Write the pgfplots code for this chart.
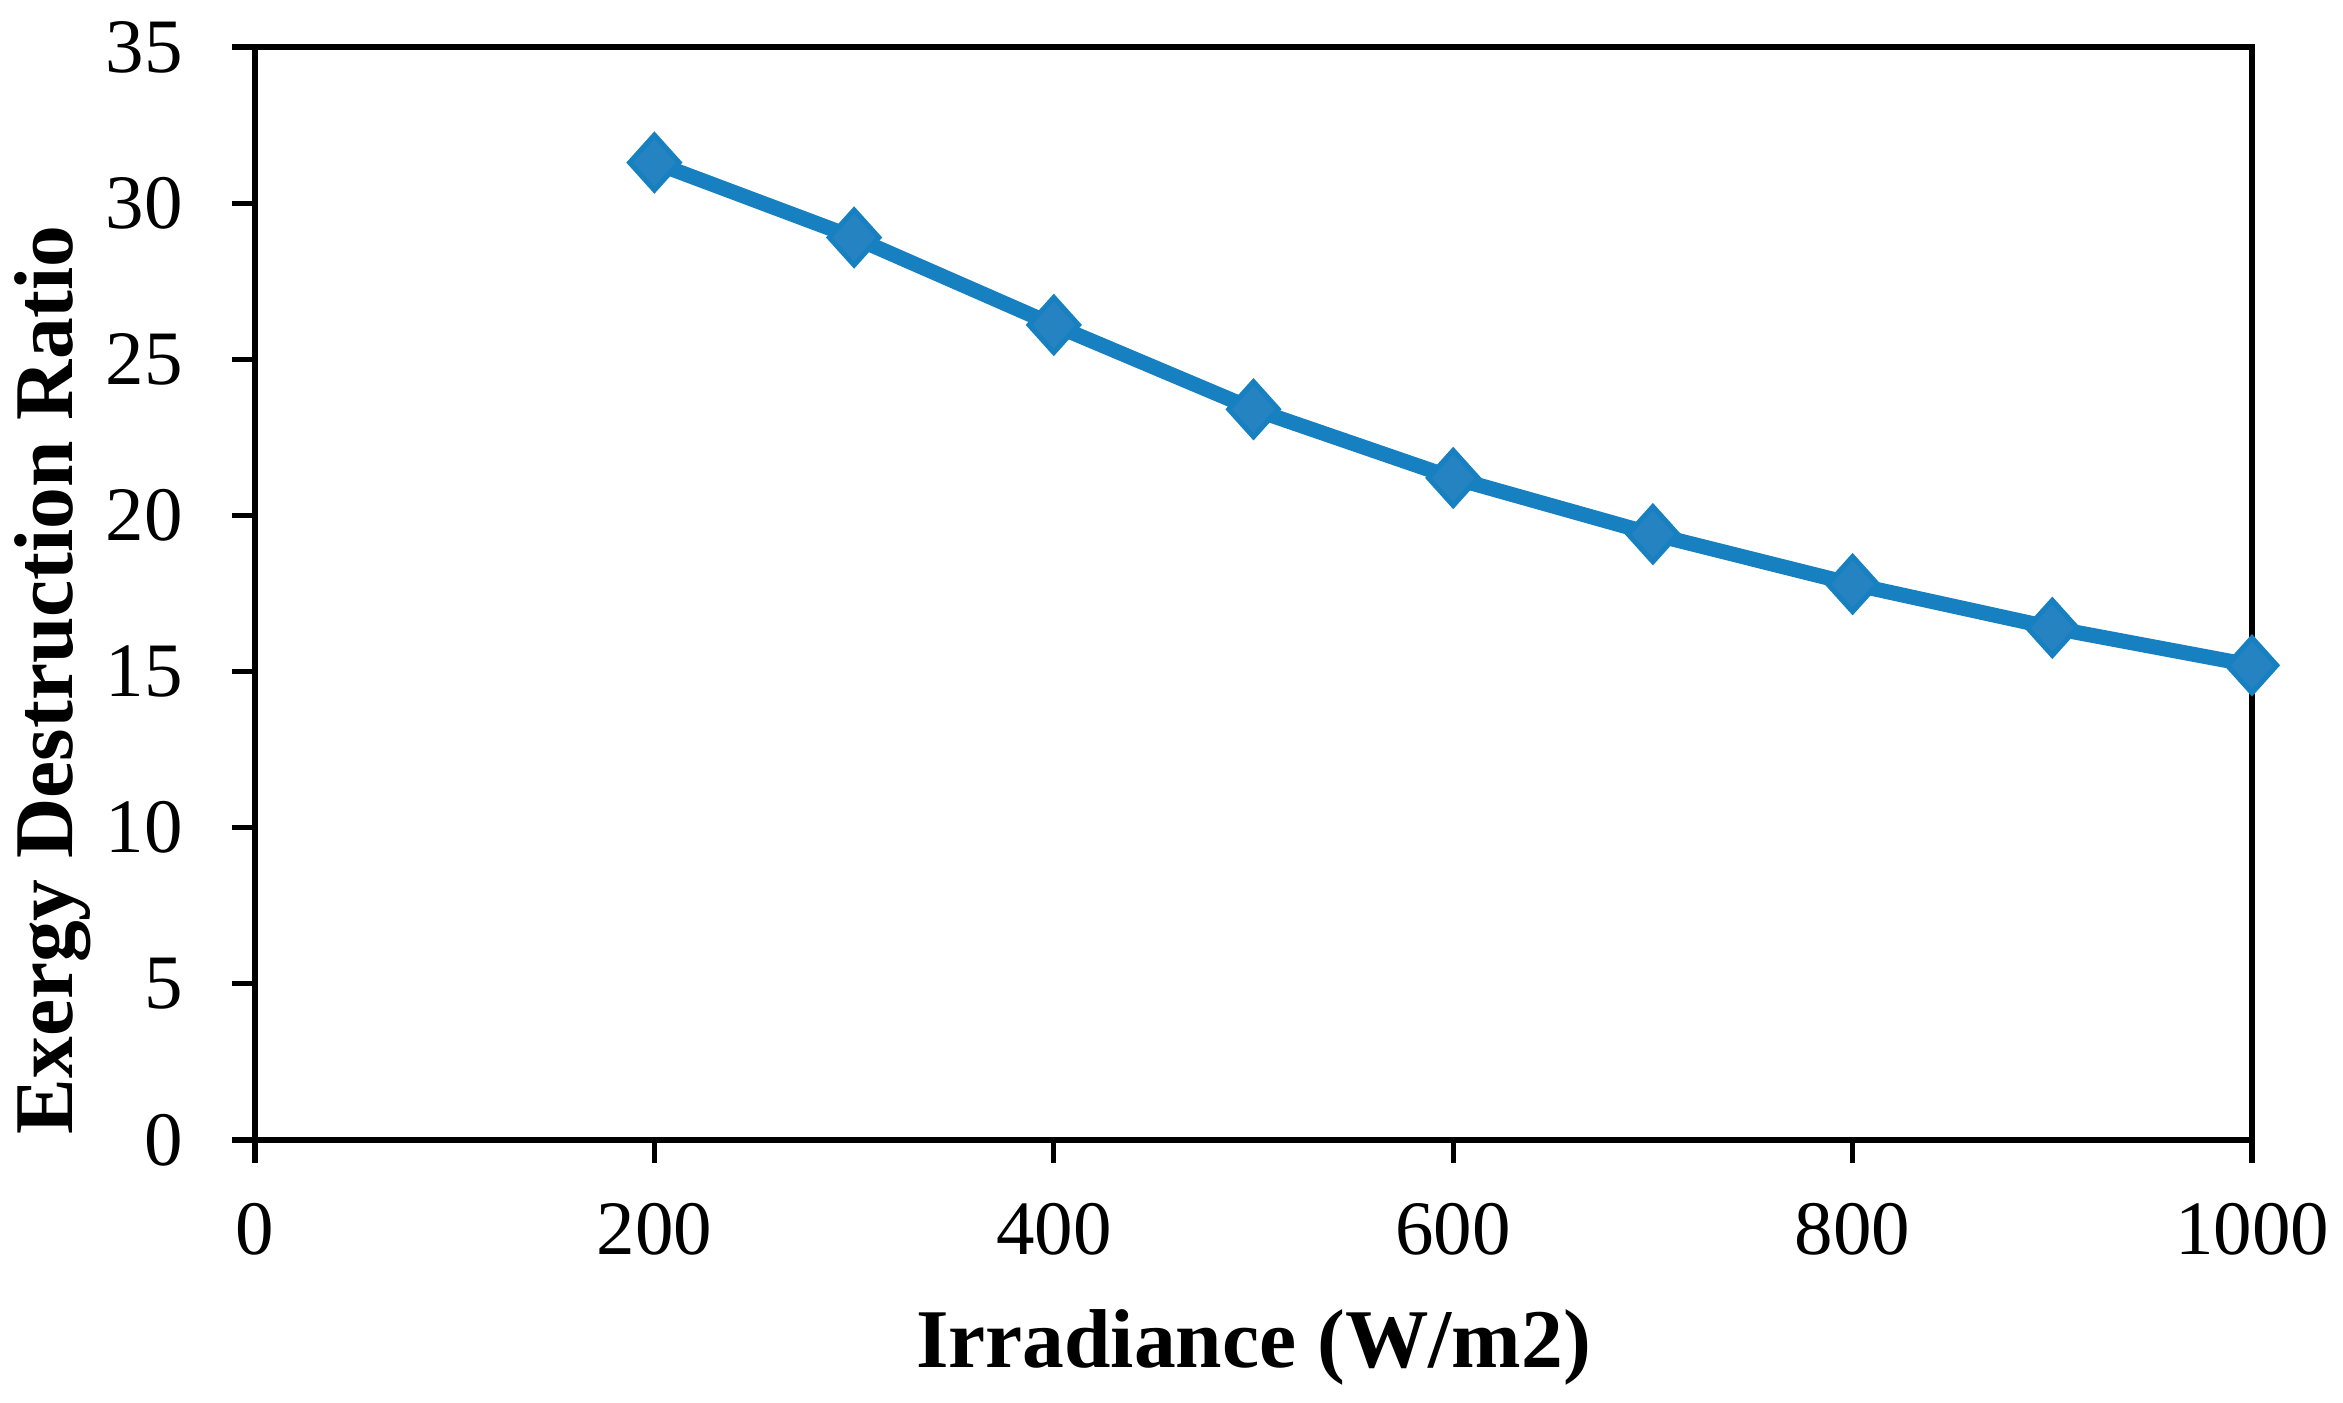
\documentclass[border=0pt]{standalone}
\usepackage{fontspec}
\setmainfont{Liberation Serif}
\usepackage{pgfplots}
\pgfplotsset{compat=1.18}
\definecolor{lineblue}{RGB}{23,128,192}
\definecolor{fillblue}{RGB}{38,131,194}
\begin{document}
\begin{tikzpicture}
\path[use as bounding box] (-51pt,-52.6pt) rectangle (417.6pt,228pt);
\begin{axis}[
  at={(0,0)}, anchor=south west, scale only axis,
  width=399.4pt, height=218.6pt,
  xmin=0, xmax=1000, ymin=0, ymax=35,
  xtick={0,200,...,1000}, ytick={0,5,...,35},
  tick align=outside,
  xtick pos=bottom, ytick pos=left,
  major tick length=4.6pt,
  axis line style={line width=1.05pt},
  every tick/.style={black, line width=1.05pt},
  tick label style={font=\fontsize{15.4}{18}\selectfont, inner sep=0pt},
  xticklabel style={anchor=north, yshift=-7.8pt},
  yticklabel style={anchor=east, xshift=-9.6pt},
  label style={font=\fontsize{16.7}{20}\selectfont\bfseries},
  /pgf/number format/assume math mode=true,
  /pgf/number format/1000 sep={},
  xlabel={Irradiance (W/m2)},
  ylabel={Exergy Destruction Ratio},
  xlabel style={at={(axis description cs:0.5,0)}, anchor=base, yshift=-45.6pt},
  ylabel style={at={(axis description cs:-0.0916,0.421)}, anchor=base},
  clip=false,
]
\addplot[lineblue, line width=3pt, mark=diamond*, mark size=5.5pt,
  mark options={fill=fillblue, draw=lineblue, line width=1pt, xscale=1.2}]
  coordinates {
  (200,31.3) (300,28.9) (400,26.1) (500,23.4) (600,21.2)
  (700,19.4) (800,17.8) (900,16.4) (1000,15.2)
  };
\end{axis}
\end{tikzpicture}
\end{document}
